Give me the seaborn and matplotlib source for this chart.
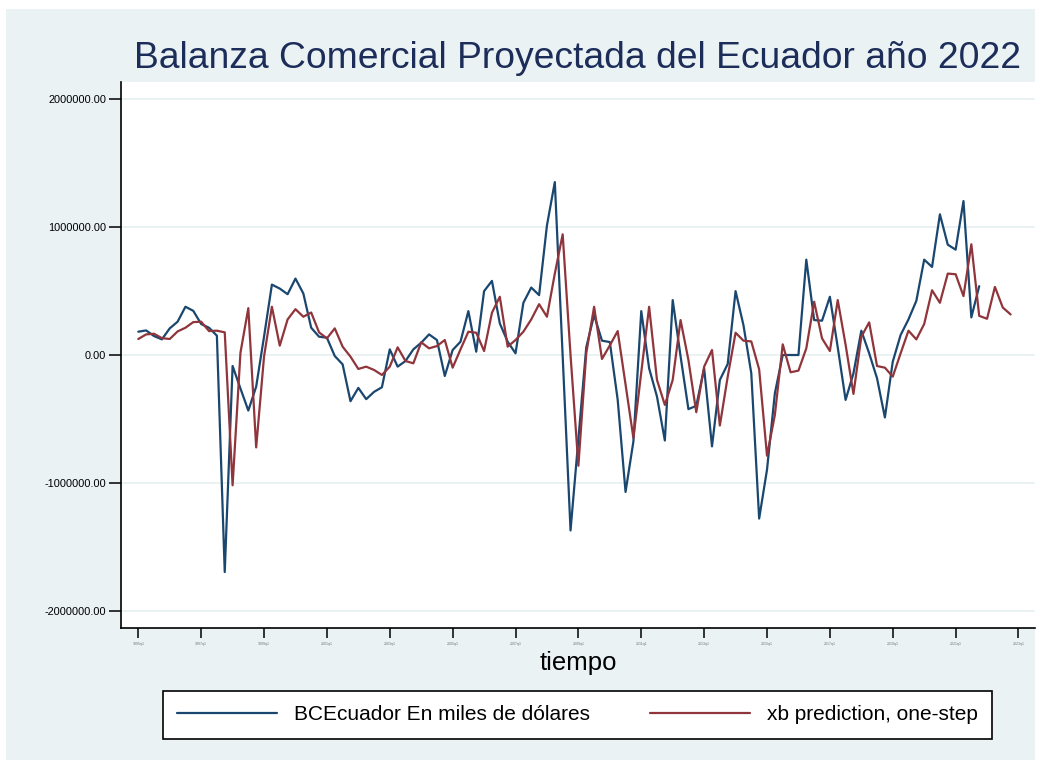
import numpy as np
import pandas as pd
import matplotlib
matplotlib.use("Agg")
import matplotlib.pyplot as plt
from matplotlib.patches import Rectangle
from matplotlib.lines import Line2D
import seaborn as sns

# ---------------- data (thousands of USD, quarterly from 1995q1) ----------------
start_year = 1995
bce_values = [
    182, 192, 148, 122, 208, 260, 377, 345, 242, 213,
    151, -1696, -86, -262, -434, -247, 143, 550, 519, 475,
    597, 481, 213, 143, 135, -8, -73, -361, -257, -345,
    -288, -252, 44, -91, -47, 44, 96, 161, 117, -164,
    39, 104, 343, 26, 499, 579, 247, 104, 13, 408,
    527, 468, 1013, 1351, -10, -1371, -655, 60, 312, 112,
    101, -350, -1070, -675, 343, -104, -325, -668, 429, -10,
    -423, -397, -104, -714, -195, -70, 499, 234, -143, -1278,
    -896, -299, 0, 0, 0, 745, 273, 268, 455, 60,
    -351, -143, 190, 13, -182, -488, -52, 156, 278, 423,
    745, 688, 1099, 862, 823, 1203, 294, 538,
]
xb_values = [
    125, 161, 166, 132, 125, 184, 213, 257, 260, 187,
    190, 177, -1018, 18, 366, -722, -13, 377, 73, 278,
    358, 299, 332, 177, 130, 208, 65, -13, -109, -91,
    -117, -156, -91, 60, -47, -65, 99, 52, 70, 117,
    -99, 44, 182, 174, 31, 330, 455, 65, 117, 182,
    278, 397, 299, 636, 943, 0, -865, 13, 377, -31,
    75, 187, -230, -649, -135, 377, -195, -390, -195, 273,
    -39, -447, -91, 39, -551, -169, 174, 112, 106, -112,
    -787, -468, 83, -135, -122, 52, 416, 130, 31, 429,
    80, -304, 143, 255, -86, -99, -169, 13, 190, 122,
    242, 506, 408, 636, 631, 460, 865, 306, 283, 532,
    371, 317,
]
xtick_labels = ["1995q1", "1997q1", "1999q1", "2001q1", "2003q1", "2005q1",
                "2007q1", "2009q1", "2011q1", "2013q1", "2015q1", "2017q1",
                "2019q1", "2021q1", "2023q1"]
ytick_values = [-2000000, -1000000, 0, 1000000, 2000000]

title_text = "Balanza Comercial Proyectada del Ecuador año 2022"
xlabel_text = "tiempo"
legend_labels = ["BCEcuador En miles de dólares", "xb prediction, one-step"]

# ---------------- frames ----------------
bce = pd.DataFrame({"t": np.arange(len(bce_values)),
                    "v": np.array(bce_values, dtype=float) * 1000})
xb = pd.DataFrame({"t": np.arange(len(xb_values)),
                   "v": np.array(xb_values, dtype=float) * 1000})

sns.set_theme(style="white")
plt.rcParams["font.family"] = ["Liberation Sans", "DejaVu Sans"]

W, H = 1049, 767
fig = plt.figure(figsize=(W / 100, H / 100), dpi=100, facecolor="white")

bg = "#eaf2f3"
fig.patches.append(Rectangle((6 / W, 1 - 760 / H), (1035 - 6) / W, (760 - 9) / H,
                             transform=fig.transFigure, facecolor=bg,
                             edgecolor="none", zorder=-10))

ax = fig.add_axes([121 / W, 1 - 628 / H, (1035 - 121) / W, (628 - 82) / H])
ax.set_zorder(1)
ax.set_facecolor("white")

navy = "#1a476f"
maroon = "#90353b"
sns.lineplot(data=bce, x="t", y="v", ax=ax, color=navy, lw=1.6, legend=False)
sns.lineplot(data=xb, x="t", y="v", ax=ax, color=maroon, lw=1.6, legend=False)

ax.set_xlim(-2.2, 114.1)
ax.set_ylim(-2133000, 2133000)

ax.set_yticks(ytick_values)
ax.set_yticklabels([f"{v:.2f}" for v in ytick_values], fontsize=7.9, color="black")
ax.set_xticks(np.arange(0, 8 * len(xtick_labels), 8))
ax.set_xticklabels(xtick_labels, fontsize=2.6, color="#777777")

for v in ytick_values:
    ax.axhline(v, color=bg, lw=1.4, zorder=0)

for s in ["top", "right"]:
    ax.spines[s].set_visible(False)
for s in ["left", "bottom"]:
    ax.spines[s].set_color("black")
    ax.spines[s].set_linewidth(1.2)

ax.tick_params(axis="y", direction="out", length=8.5, width=1.1, pad=2, color="black")
ax.tick_params(axis="x", direction="out", length=7, width=1.1, pad=3, color="black")
ax.tick_params(left=True, bottom=True)

ax.set_xlabel(xlabel_text, fontsize=18.5, labelpad=4, color="black")
ax.set_ylabel("")

fig.text(578 / W, 1 - 58 / H, title_text, fontsize=26.8, color="#1c2d5a",
         ha="center", va="center")

handles = [Line2D([0], [0], color=navy, lw=1.6),
           Line2D([0], [0], color=maroon, lw=1.6)]
leg = fig.legend(handles, legend_labels, loc="center",
                 bbox_to_anchor=(577.5 / W, 1 - 715 / H), ncol=2,
                 fontsize=15.0, frameon=True, fancybox=False, framealpha=1,
                 handlelength=4.8, handletextpad=0.8, columnspacing=2.9,
                 borderpad=0.7, borderaxespad=0)
leg.get_frame().set_edgecolor("black")
leg.get_frame().set_linewidth(1.2)
leg.get_frame().set_facecolor("white")
for t in leg.get_texts():
    t.set_color("black")

fig.savefig("out.png", dpi=100, facecolor="white")
